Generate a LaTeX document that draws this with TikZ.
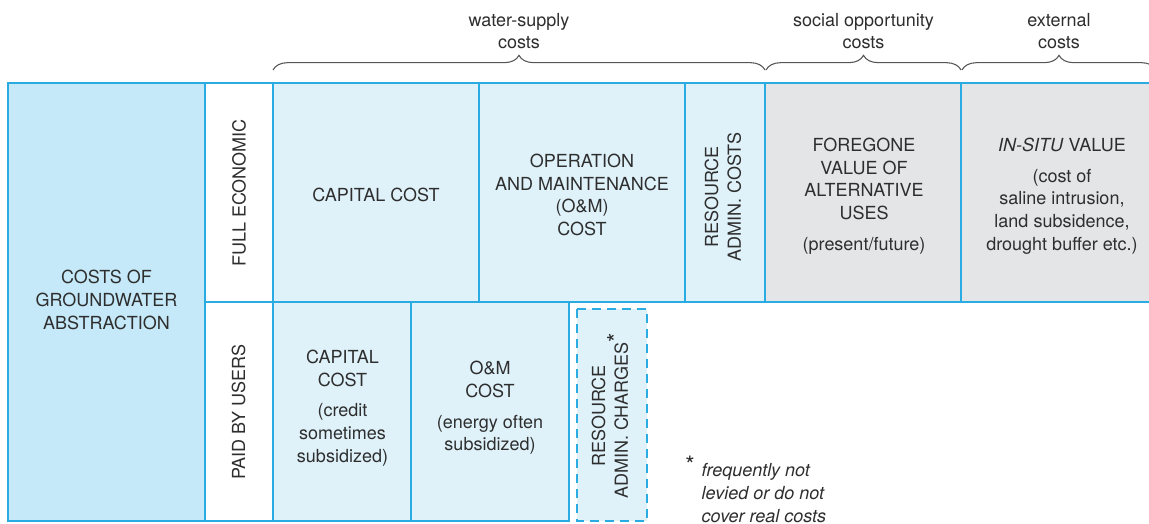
\documentclass[tikz,border=0pt]{standalone}
\usepackage{fontspec}
\setmainfont{TeX Gyre Heros}
\usepackage{tikz}
\usetikzlibrary{decorations.pathreplacing}

\definecolor{cellline}{HTML}{2AACE2}
\definecolor{costblue}{HTML}{C5E9F8}
\definecolor{lightblue}{HTML}{DFF2FA}
\definecolor{greycell}{HTML}{E4E5E6}
\definecolor{textgrey}{HTML}{2E2E2E}
\definecolor{bracegrey}{HTML}{555555}

\newcommand{\bigstar}{\raisebox{0.35ex}{\fontsize{18}{18}\selectfont *}}

\tikzset{
	cellbox/.style={draw=cellline, line width=1.1pt},
	txt/.style={text=textgrey, align=center, font=\fontsize{13.5}{17}\selectfont},
	sidetxt/.style={txt, rotate=90},
	costbrace/.style={draw=bracegrey, line width=0.8pt, decorate, decoration={brace, amplitude=11pt}},
}

\begin{document}
\begin{tikzpicture}[x=0.75pt, y=-0.75pt]
	\useasboundingbox (0,0) rectangle (1149,524);
	\clip (0,0) rectangle (1149,524);

	% Braces over the columns
	\draw[costbrace] (273,70) -- (765,70);
	\node[txt] (wsc) at (519,31) {water-supply\\costs};
	\draw[costbrace] (766,70) -- (961,70);
	\node[txt] (soc) at (863.5,31) {social opportunity\\costs};
	\draw[costbrace] (962,70) -- (1156,70);
	\node[txt] (ext) at (1059,31) {external\\costs};

	% Left block
	\draw[cellbox, fill=costblue] (8,83) rectangle (205,521);
	\node[txt] (abstraction) at (106.5,300) {COSTS OF\\GROUNDWATER\\ABSTRACTION};

	% Row labels
	\draw[cellbox, fill=white] (205,83) rectangle (273,302);
	\node[sidetxt] (fullecon) at (239,193) {FULL ECONOMIC};
	\draw[cellbox, fill=white] (205,302) rectangle (273,521);
	\node[sidetxt] (paidusers) at (238.5,412) {PAID BY USERS};

	% Top row: full economic
	\draw[cellbox, fill=lightblue] (273,83) rectangle (479,302);
	\node[txt] (capfull) at (376,195) {CAPITAL COST};
	\draw[cellbox, fill=lightblue] (479,83) rectangle (685,302);
	\node[txt] (omfull) at (582,195) {OPERATION\\AND MAINTENANCE\\(O\&M)\\COST};
	\draw[cellbox, fill=lightblue] (685,83) rectangle (765,302);
	\node[sidetxt] (resfull) at (723,197) {RESOURCE\\ADMIN. COSTS};
	\draw[cellbox, fill=greycell] (765,83) rectangle (961,302);
	\node[txt] (forego) at (864,196) {FOREGONE\\VALUE OF\\ALTERNATIVE\\USES\\[6pt](present/future)};
	\draw[cellbox, fill=greycell] (961,83) rectangle (1160,302);
	\node[txt] (insitu) at (1062,196) {\textit{IN-SITU} VALUE\\[6pt](cost of\\saline intrusion,\\land subsidence,\\drought buffer etc.)};

	% Bottom row: paid by users
	\draw[cellbox, fill=lightblue] (273,302) rectangle (411,521);
	\node[txt] (cappaid) at (342.5,408) {CAPITAL\\COST\\[6pt](credit\\sometimes\\subsidized)};
	\draw[cellbox, fill=lightblue] (411,302) rectangle (569,521);
	\node[txt] (ompaid) at (490,408) {O\&M\\COST\\[6pt](energy often\\subsidized)};
	\draw[cellbox, fill=lightblue, dash pattern=on 6.75pt off 4.5pt] (577,309) rectangle (647,521);
	\node[sidetxt] (respaid) at (610,416) {RESOURCE\\ADMIN. CHARGES\bigstar};

	% Footnote
	\node[txt] (star) at (690,466) {\bigstar};
	\node[txt, align=left, anchor=west] (note) at (697,493) {\textit{frequently not}\\\textit{levied or do not}\\\textit{cover real costs}};
\end{tikzpicture}
\end{document}
